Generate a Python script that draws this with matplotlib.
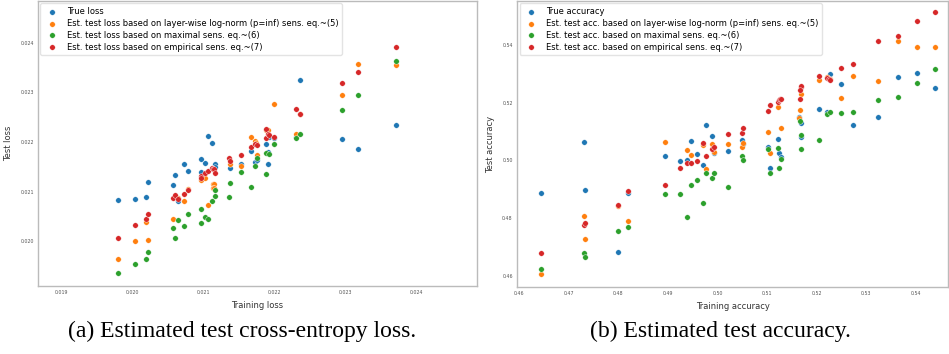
import matplotlib
matplotlib.use('Agg')
import matplotlib.pyplot as plt

# ---- (a) loss panel: values ----
loss_true_x = [0.01979, 0.02003, 0.02018, 0.02021, 0.02057, 0.02059, 0.02063, 0.02072, 0.02077,
               0.02096, 0.02096, 0.02102, 0.02105, 0.02112, 0.02115, 0.02116, 0.02136, 0.02152,
               0.02166, 0.02172, 0.02174, 0.02188, 0.02190, 0.02190, 0.02192, 0.02199, 0.02229,
               0.02235, 0.02294, 0.02317, 0.02370]
loss_true_y = [0.02083, 0.02085, 0.02089, 0.02120, 0.02113, 0.02134, 0.02081, 0.02156, 0.02141,
               0.02165, 0.02140, 0.02157, 0.02212, 0.02199, 0.02155, 0.02150, 0.02147, 0.02155,
               0.02181, 0.02160, 0.02163, 0.02195, 0.02180, 0.02155, 0.02210, 0.02209, 0.02210,
               0.02326, 0.02206, 0.02186, 0.02235]

loss_lw_x = [0.01979, 0.02003, 0.02018, 0.02021, 0.02057, 0.02063, 0.02072, 0.02077, 0.02096,
             0.02102, 0.02105, 0.02113, 0.02114, 0.02113, 0.02114, 0.02136, 0.02152, 0.02166,
             0.02172, 0.02173, 0.02174, 0.02187, 0.02190, 0.02199, 0.02229, 0.02235, 0.02294,
             0.02317, 0.02370]
loss_lw_y = [0.01964, 0.02000, 0.02038, 0.02003, 0.02045, 0.02086, 0.02081, 0.02105, 0.02123,
             0.02128, 0.02073, 0.02116, 0.02116, 0.02107, 0.02107, 0.02155, 0.02152, 0.02210,
             0.02202, 0.02197, 0.02173, 0.02224, 0.02225, 0.02276, 0.02216, 0.02256, 0.02294,
             0.02358, 0.02355]

loss_max_x = [0.01979, 0.02003, 0.02018, 0.02021, 0.02057, 0.02059, 0.02063, 0.02072, 0.02077,
              0.02096, 0.02096, 0.02102, 0.02105, 0.02112, 0.02115, 0.02116, 0.02135, 0.02137,
              0.02152, 0.02166, 0.02172, 0.02174, 0.02187, 0.02188, 0.02191, 0.02199, 0.02229,
              0.02235, 0.02294, 0.02317, 0.02370]
loss_max_y = [0.01936, 0.01953, 0.01964, 0.01977, 0.02026, 0.02007, 0.02042, 0.02031, 0.02054,
              0.02064, 0.02036, 0.02049, 0.02044, 0.02081, 0.02091, 0.02104, 0.02088, 0.02118,
              0.02139, 0.02109, 0.02152, 0.02167, 0.02136, 0.02178, 0.02175, 0.02196, 0.02208,
              0.02216, 0.02264, 0.02294, 0.02363]

loss_emp_x = [0.01979, 0.02003, 0.02018, 0.02021, 0.02057, 0.02059, 0.02063, 0.02072, 0.02077,
              0.02096, 0.02096, 0.02102, 0.02105, 0.02112, 0.02113, 0.02114, 0.02116, 0.02135,
              0.02137, 0.02152, 0.02166, 0.02172, 0.02174, 0.02187, 0.02188, 0.02190, 0.02192,
              0.02199, 0.02229, 0.02235, 0.02294, 0.02317, 0.02370]
loss_emp_y = [0.02007, 0.02033, 0.02044, 0.02054, 0.02087, 0.02094, 0.02084, 0.02096, 0.02103,
              0.02132, 0.02128, 0.02138, 0.02141, 0.02148, 0.02145, 0.02146, 0.02137, 0.02167,
              0.02162, 0.02173, 0.02190, 0.02196, 0.02194, 0.02227, 0.02208, 0.02216, 0.02214,
              0.02210, 0.02266, 0.02257, 0.02320, 0.02342, 0.02391]

# ---- (b) accuracy panel ----
acc_true_x = [0.4644, 0.4730, 0.4732, 0.4799, 0.4820, 0.4895, 0.4925, 0.4939, 0.4946, 0.4958,
              0.4971, 0.4976, 0.4989, 0.4992, 0.5021, 0.5050, 0.5051, 0.5101, 0.5106, 0.5121,
              0.5123, 0.5127, 0.5165, 0.5169, 0.5168, 0.5204, 0.5220, 0.5227, 0.5248, 0.5273,
              0.5324, 0.5364, 0.5402, 0.5438]
acc_true_y = [0.4888, 0.5063, 0.4898, 0.4683, 0.4887, 0.5015, 0.4997, 0.5003, 0.5069, 0.5022,
              0.4983, 0.5122, 0.5086, 0.5025, 0.5032, 0.5072, 0.5056, 0.5047, 0.4973, 0.5073,
              0.5027, 0.5011, 0.5150, 0.5131, 0.5080, 0.5177, 0.5168, 0.5299, 0.5264, 0.5124,
              0.5152, 0.5288, 0.5304, 0.5250]

acc_lw_x = [0.4644, 0.4730, 0.4732, 0.4799, 0.4820, 0.4895, 0.4939, 0.4946, 0.4971, 0.4976,
            0.4989, 0.4992, 0.5021, 0.5050, 0.5051, 0.5101, 0.5106, 0.5121, 0.5127, 0.5169,
            0.5167, 0.5165, 0.5204, 0.5220, 0.5227, 0.5248, 0.5273, 0.5324, 0.5364, 0.5402,
            0.5438]
acc_lw_y = [0.4608, 0.4809, 0.4729, 0.4842, 0.4789, 0.5064, 0.5036, 0.5020, 0.5052, 0.4970,
            0.5056, 0.5030, 0.5058, 0.5047, 0.5059, 0.5099, 0.5025, 0.5186, 0.5113, 0.5229,
            0.5175, 0.5146, 0.5278, 0.5290, 0.5281, 0.5216, 0.5294, 0.5276, 0.5414, 0.5393,
            0.5393]

acc_max_x = [0.4644, 0.4730, 0.4732, 0.4799, 0.4820, 0.4895, 0.4925, 0.4939, 0.4946, 0.4958,
             0.4971, 0.4976, 0.4989, 0.4992, 0.5021, 0.5050, 0.5051, 0.5101, 0.5106, 0.5121,
             0.5123, 0.5127, 0.5167, 0.5168, 0.5169, 0.5204, 0.5220, 0.5227, 0.5248, 0.5273,
             0.5324, 0.5364, 0.5402, 0.5438]
acc_max_y = [0.4625, 0.4680, 0.4667, 0.4756, 0.4770, 0.4885, 0.4883, 0.4805, 0.4916, 0.4932,
             0.4852, 0.4956, 0.4940, 0.4958, 0.4909, 0.5016, 0.5002, 0.5040, 0.4956, 0.5042,
             0.4975, 0.5004, 0.5136, 0.5088, 0.5039, 0.5072, 0.5161, 0.5169, 0.5166, 0.5167,
             0.5211, 0.5219, 0.5268, 0.5317]

acc_emp_x = [0.4644, 0.4730, 0.4732, 0.4799, 0.4820, 0.4895, 0.4925, 0.4939, 0.4946, 0.4958,
             0.4971, 0.4976, 0.4989, 0.4992, 0.5021, 0.5050, 0.5051, 0.5101, 0.5106, 0.5121,
             0.5123, 0.5125, 0.5127, 0.5168, 0.5169, 0.5167, 0.5167, 0.5204, 0.5220, 0.5224,
             0.5227, 0.5248, 0.5273, 0.5324, 0.5364, 0.5402, 0.5438]
acc_emp_y = [0.4679, 0.4778, 0.4783, 0.4845, 0.4895, 0.4914, 0.4975, 0.4991, 0.4990, 0.4999,
             0.5061, 0.5016, 0.5040, 0.5048, 0.5091, 0.5096, 0.5112, 0.5170, 0.5191, 0.5203,
             0.5210, 0.5213, 0.5214, 0.5254, 0.5258, 0.5244, 0.5213, 0.5293, 0.5285, 0.5283,
             0.5279, 0.5321, 0.5333, 0.5413, 0.5432, 0.5483, 0.5514]

loss_labels = ['True loss',
               'Est. test loss based on layer-wise log-norm (p=inf) sens. eq.~(5)',
               'Est. test loss based on maximal sens. eq.~(6)',
               'Est. test loss based on empirical sens. eq.~(7)']
acc_labels = ['True accuracy',
              'Est. test acc. based on layer-wise log-norm (p=inf) sens. eq.~(5)',
              'Est. test acc. based on maximal sens. eq.~(6)',
              'Est. test acc. based on empirical sens. eq.~(7)']
colors = ['#1f77b4', '#ff7f0e', '#2ca02c', '#d62728']

loss_xticks = [0.019, 0.020, 0.021, 0.022, 0.023, 0.024]
loss_yticks = [0.020, 0.021, 0.022, 0.023, 0.024]
acc_xticks = [0.46, 0.47, 0.48, 0.49, 0.50, 0.51, 0.52, 0.53, 0.54]
acc_yticks = [0.46, 0.48, 0.50, 0.52, 0.54]


def style_axes(ax):
    for sp in ax.spines.values():
        sp.set_color('#bbbbbb')
        sp.set_linewidth(1.0)
    ax.tick_params(length=0, labelsize=3.4, labelcolor='#555555', pad=3)


fig = plt.figure(figsize=(9.49, 3.54), dpi=100)
ax1 = fig.add_axes([0.0400, 0.1921, 0.4626, 0.8051])
ax2 = fig.add_axes([0.5448, 0.1893, 0.4542, 0.8079])

loss_series = [(loss_true_x, loss_true_y), (loss_lw_x, loss_lw_y),
               (loss_max_x, loss_max_y), (loss_emp_x, loss_emp_y)]
acc_series = [(acc_true_x, acc_true_y), (acc_lw_x, acc_lw_y),
              (acc_max_x, acc_max_y), (acc_emp_x, acc_emp_y)]

for (xs, ys), lab, c in zip(loss_series, loss_labels, colors):
    ax1.scatter(xs, ys, s=16, color=c, edgecolors='white', linewidths=0.3, label=lab)
for (xs, ys), lab, c in zip(acc_series, acc_labels, colors):
    ax2.scatter(xs, ys, s=16, color=c, edgecolors='white', linewidths=0.3, label=lab)

ax1.set_xlim(0.018662, 0.024845)
ax1.set_ylim(0.019093, 0.024847)
ax1.set_xticks(loss_xticks)
ax1.set_xticklabels(['%.3f' % t for t in loss_xticks])
ax1.set_yticks(loss_yticks)
ax1.set_yticklabels(['%.3f' % t for t in loss_yticks])
ax1.set_xlabel('Training loss', fontsize=6, color='#333333', labelpad=4)
ax1.set_ylabel('Test loss', fontsize=6, color='#333333', labelpad=5)

ax2.set_xlim(0.4596, 0.54645)
ax2.set_ylim(0.4562, 0.5552)
ax2.set_xticks(acc_xticks)
ax2.set_xticklabels(['%.2f' % t for t in acc_xticks])
ax2.set_yticks(acc_yticks)
ax2.set_yticklabels(['%.2f' % t for t in acc_yticks])
ax2.set_xlabel('Training accuracy', fontsize=6, color='#333333', labelpad=4)
ax2.set_ylabel('Test accuracy', fontsize=6, color='#333333', labelpad=5)

for ax in (ax1, ax2):
    style_axes(ax)
    ax.legend(loc='upper left', fontsize=6, scatterpoints=1, labelspacing=0.35,
              borderaxespad=0.3, frameon=True, edgecolor='#dddddd')

# captions under each panel
fig.text(0.255, 0.065, '(a) Estimated test cross-entropy loss.', ha='center', va='center',
         fontsize=17, family='Liberation Serif')
fig.text(0.759, 0.065, '(b) Estimated test accuracy.', ha='center', va='center',
         fontsize=17, family='Liberation Serif')

fig.savefig('out.png', dpi=100)
